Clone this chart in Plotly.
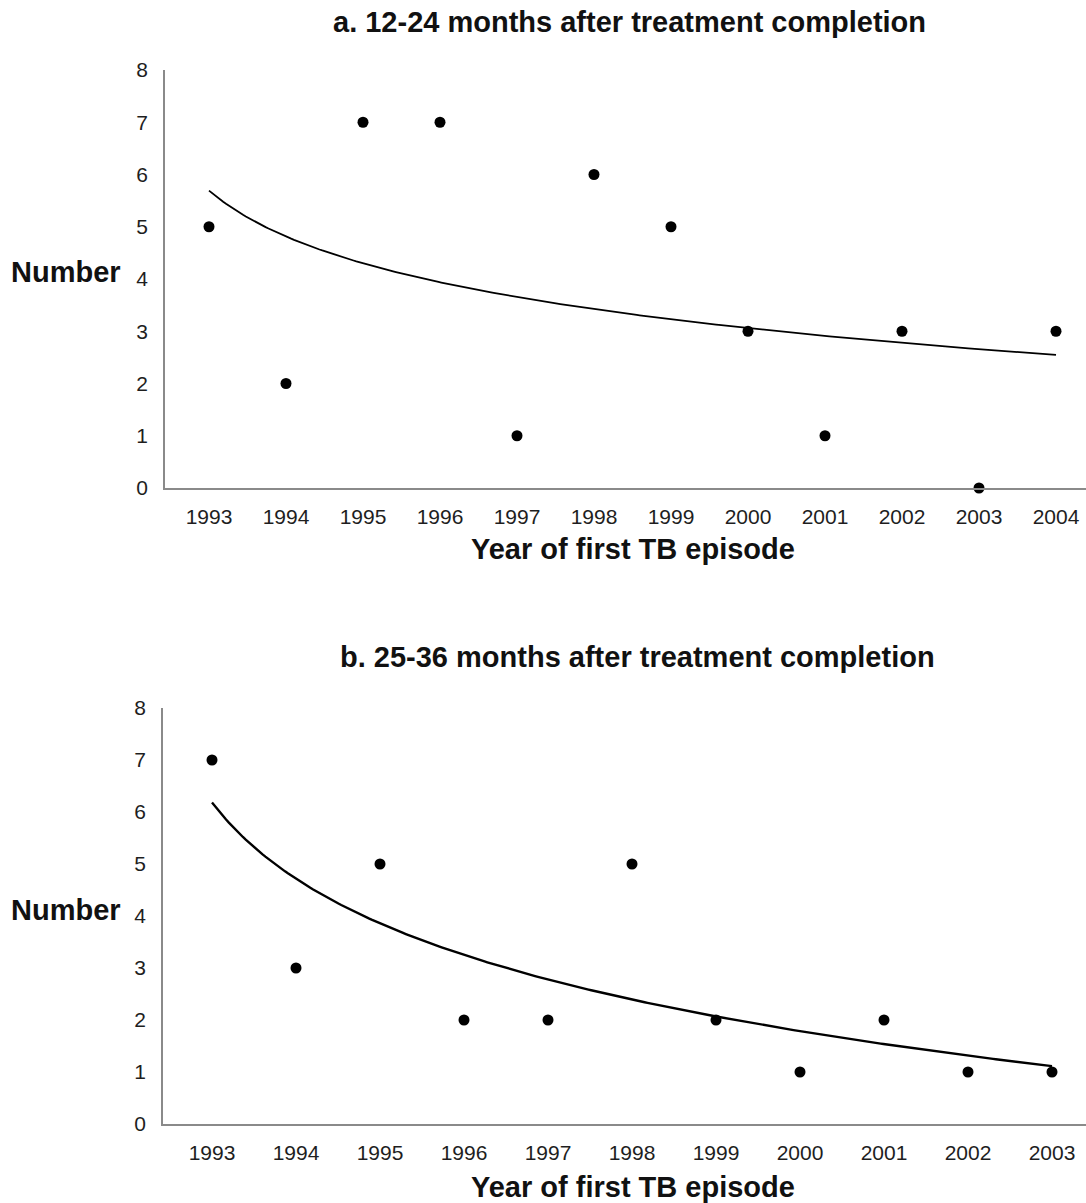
import numpy as np
import plotly.graph_objects as go

years_a = ["1993", "1994", "1995", "1996", "1997", "1998", "1999", "2000", "2001", "2002", "2003", "2004"]
values_a = [5, 2, 7, 7, 1, 6, 5, 3, 1, 3, 0, 3]
years_b = ["1993", "1994", "1995", "1996", "1997", "1998", "1999", "2000", "2001", "2002", "2003"]
values_b = [7, 3, 5, 2, 2, 5, 2, 1, 2, 1, 1]
yticks = [0, 1, 2, 3, 4, 5, 6, 7, 8]

W, H = 1086, 1203
FONT = "Liberation Sans, Arial, sans-serif"
AXC = "#8a8a8a"


def log_trend(vals):
    n = len(vals)
    idx = np.arange(1, n + 1)
    a, b = np.polyfit(np.log(idx), np.array(vals, dtype=float), 1)
    xs = np.linspace(1, n, 300)
    return xs - 1, a * np.log(xs) + b


fig = go.Figure()

# panel a
xa = list(range(len(years_a)))
tx, ty = log_trend(values_a)
fig.add_trace(go.Scatter(x=tx, y=ty, mode="lines", line=dict(color="black", width=1.8),
                         xaxis="x", yaxis="y", showlegend=False, hoverinfo="skip"))
fig.add_trace(go.Scatter(x=xa, y=values_a, mode="markers", marker=dict(color="black", size=11),
                         xaxis="x", yaxis="y", showlegend=False, cliponaxis=False))

# panel b
xb = list(range(len(years_b)))
tx, ty = log_trend(values_b)
fig.add_trace(go.Scatter(x=tx, y=ty, mode="lines", line=dict(color="black", width=2.4),
                         xaxis="x2", yaxis="y2", showlegend=False, hoverinfo="skip"))
fig.add_trace(go.Scatter(x=xb, y=values_b, mode="markers", marker=dict(color="black", size=11),
                         xaxis="x2", yaxis="y2", showlegend=False, cliponaxis=False))


def px_x(p):
    return p / W


def px_y(p):
    return 1 - p / H


tickfont = dict(family=FONT, size=21, color="#1e1e1e")

common_x = dict(showline=True, linecolor=AXC, linewidth=1.5, showgrid=False, zeroline=False,
                ticks="", tickfont=tickfont, ticklabelstandoff=9, fixedrange=True,
                automargin=False)
common_y = dict(showline=True, linecolor=AXC, linewidth=1.5, showgrid=False, zeroline=False,
                ticks="", tickfont=tickfont, ticklabelstandoff=11, range=[0, 8],
                tickvals=yticks, ticktext=[str(v) for v in yticks], fixedrange=True,
                automargin=False)

fig.update_layout(
    width=W, height=H,
    margin=dict(l=0, r=0, t=0, b=0, pad=0),
    paper_bgcolor="white", plot_bgcolor="white",
    xaxis=dict(common_x, domain=[px_x(165), 1], anchor="y",
               range=[(165 - 209) / 77, (1086 - 209) / 77],
               tickvals=xa, ticktext=years_a),
    yaxis=dict(common_y, domain=[px_y(488), px_y(70)], anchor="x"),
    xaxis2=dict(common_x, domain=[px_x(163), 1], anchor="y2",
                range=[(163 - 212) / 84, (1086 - 212) / 84],
                tickvals=xb, ticktext=years_b),
    yaxis2=dict(common_y, domain=[px_y(1124), px_y(708)], anchor="x2"),
)

ann = []
bold_title = dict(family=FONT, size=29, color="#111")
bold_axis = dict(family=FONT, size=29, color="#111")
ann.append(dict(text="<b>a. 12-24 months after treatment completion</b>", x=px_x(629), y=px_y(22),
                font=bold_title))
ann.append(dict(text="<b>b. 25-36 months after treatment completion</b>", x=px_x(637), y=px_y(657),
                font=bold_title))
ann.append(dict(text="<b>Number</b>", x=px_x(66), y=px_y(272), font=bold_axis))
ann.append(dict(text="<b>Number</b>", x=px_x(66), y=px_y(910), font=bold_axis))
ann.append(dict(text="<b>Year of first TB episode</b>", x=px_x(633), y=px_y(549), font=bold_axis))
ann.append(dict(text="<b>Year of first TB episode</b>", x=px_x(633), y=px_y(1187), font=bold_axis))
for a in ann:
    a.update(xref="paper", yref="paper", xanchor="center", yanchor="middle", showarrow=False)
fig.update_layout(annotations=ann)

fig.write_html("out.html", config={"displayModeBar": False},
               post_script="document.body.style.margin='0';document.body.style.overflow='hidden';")
